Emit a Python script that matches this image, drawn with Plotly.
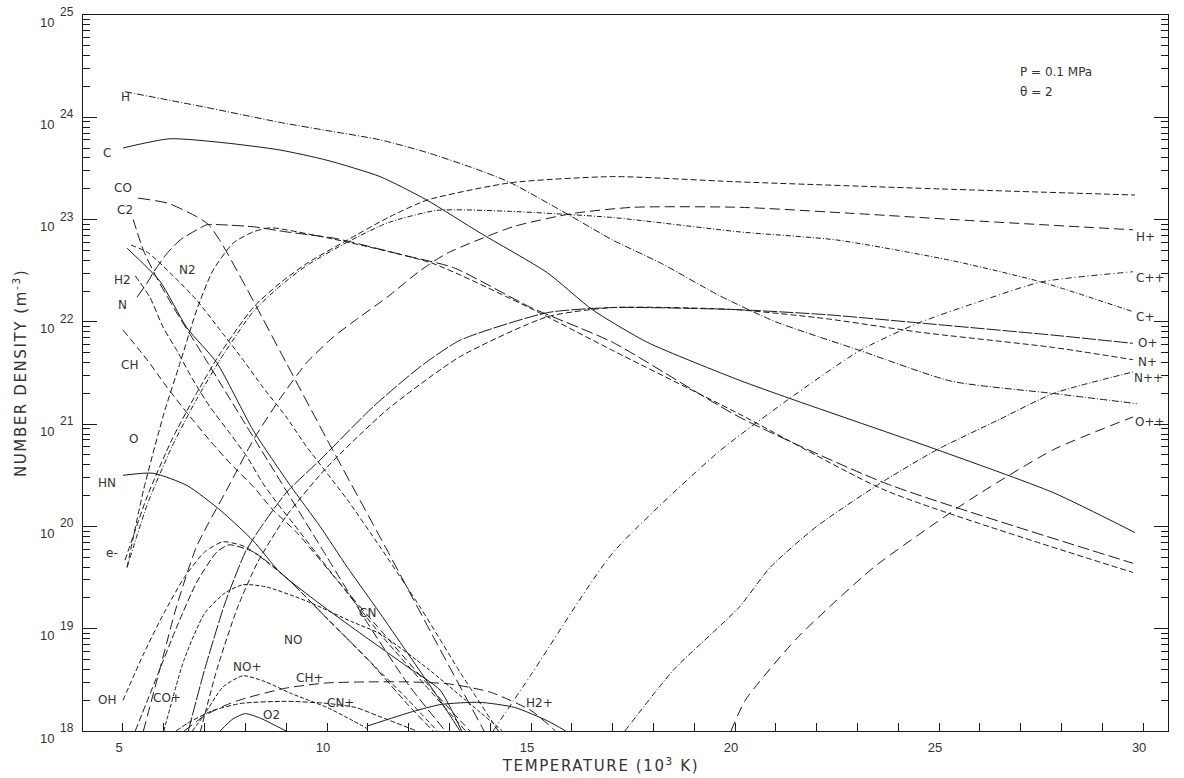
import plotly.graph_objects as go

# ---------------- data: temperature (10^3 K) and log10 number density (m^-3) -------------
H_T = [5.05, 7.0, 8.85, 10.0, 11.3, 12.5, 13.75, 14.5, 15.95, 17.0, 18.2, 19.6, 21.0, 23.06, 25.3, 27.8, 29.85]
H_L = [24.25, 24.1, 23.95, 23.87, 23.78, 23.65, 23.48, 23.36, 23.04, 22.8, 22.57, 22.26, 22.0, 21.72, 21.42, 21.3, 21.2]

C_T = [5.0, 6.15, 7.5, 8.85, 10.0, 11.3, 12.45, 13.75, 15.4, 16.5, 17.85, 20.1, 21.35, 24.95, 27.8, 29.8]
C_L = [23.7, 23.79, 23.75, 23.68, 23.58, 23.42, 23.19, 22.87, 22.48, 22.12, 21.8, 21.43, 21.25, 20.75, 20.33, 19.94]

E_T = [5.05, 5.6, 6.2, 6.8, 7.38, 8.19, 8.85, 9.5, 10.5, 11.5, 12.45, 14.5, 17.0, 20.0, 25.0, 29.8]
E_L = [19.67, 20.3, 20.85, 21.3, 21.69, 22.14, 22.38, 22.57, 22.8, 23.02, 23.19, 23.36, 23.42, 23.37, 23.3, 23.24]

CP_T = [5.1, 5.6, 6.2, 6.8, 7.38, 8.19, 8.85, 9.5, 10.5, 11.5, 12.7, 14.5, 17.0, 20.1, 22.5, 25.3, 27.5, 29.75]
CP_L = [19.6, 20.22, 20.78, 21.24, 21.63, 22.1, 22.35, 22.55, 22.78, 22.97, 23.09, 23.08, 23.02, 22.88, 22.8, 22.6, 22.39, 22.1]

HP_T = [5.5, 5.9, 6.3, 6.8, 7.6, 8.2, 8.85, 9.5, 10.15, 10.64, 11.47, 12.28, 12.94, 14.56, 16.03, 17.5, 20.1, 22.9, 26.2, 29.75]
HP_L = [18.0, 18.6, 19.2, 19.8, 20.4, 20.85, 21.25, 21.6, 21.85, 22.0, 22.24, 22.5, 22.67, 22.93, 23.06, 23.12, 23.12, 23.06, 22.98, 22.9]

CO_T = [5.37, 6.1, 6.8, 7.1, 7.4, 8.0, 9.0, 10.0, 11.47, 12.7, 13.85]
CO_L = [23.21, 23.16, 23.03, 22.95, 22.78, 22.35, 21.6, 20.85, 19.77, 18.85, 18.0]

C2_T = [5.25, 5.5, 5.8, 6.3, 7.0, 8.0, 9.0, 10.0, 11.0, 12.0, 12.9]
C2_L = [23.0, 22.7, 22.45, 22.1, 21.65, 21.0, 20.35, 19.7, 19.05, 18.45, 18.0]

N2_T = [5.2, 5.6, 6.23, 6.81, 7.38, 7.94, 8.43, 9.0, 9.5, 10.0, 10.5, 11.3, 12.3, 13.3, 14.2]
N2_L = [22.75, 22.68, 22.45, 22.21, 21.92, 21.63, 21.36, 21.07, 20.78, 20.52, 20.26, 19.8, 19.2, 18.55, 18.0]

CN_T = [5.1, 5.9, 6.57, 7.3, 8.19, 9.1, 9.83, 10.5, 11.3, 12.77, 13.26]
CN_L = [22.72, 22.4, 21.94, 21.6, 20.94, 20.4, 20.0, 19.6, 19.15, 18.3, 18.0]

H2_T = [5.3, 5.66, 5.98, 6.32, 6.72, 7.13, 7.62, 8.04, 8.43, 8.85, 9.17, 10.2, 11.3, 12.4, 13.4]
H2_L = [22.45, 22.24, 21.95, 21.72, 21.43, 21.17, 20.91, 20.68, 20.42, 20.19, 20.03, 19.5, 18.95, 18.45, 18.0]

CH_T = [5.0, 5.59, 6.08, 6.57, 7.13, 7.62, 8.19, 8.68, 9.26, 10.3, 11.5, 12.7, 13.5]
CH_L = [21.92, 21.63, 21.36, 21.11, 20.84, 20.62, 20.39, 20.16, 19.94, 19.45, 18.9, 18.35, 18.0]

N_T = [5.34, 5.59, 5.74, 6.08, 6.4, 6.81, 7.06, 7.38, 8.19, 9.0, 10.15, 10.6, 11.9, 13.1, 15.0, 17.0, 20.1, 23.7, 29.75]
N_L = [22.24, 22.38, 22.48, 22.67, 22.8, 22.9, 22.95, 22.95, 22.93, 22.88, 22.82, 22.78, 22.65, 22.53, 22.14, 21.8, 21.07, 20.42, 19.64]

O_T = [5.1, 5.5, 6.0, 6.4, 6.81, 7.2, 7.7, 8.19, 8.6, 9.0, 10.5, 12.6, 15.05, 17.0, 20.1, 23.7, 29.75]
O_L = [19.6, 20.35, 21.1, 21.6, 22.12, 22.5, 22.77, 22.88, 22.92, 22.9, 22.78, 22.57, 22.12, 21.72, 21.1, 20.35, 19.55]

HN_T = [5.0, 5.74, 6.57, 7.38, 8.19, 8.85, 9.8, 10.8, 12.0, 12.77, 13.3]
HN_L = [20.5, 20.52, 20.4, 20.16, 19.86, 19.55, 19.25, 18.96, 18.62, 18.4, 18.0]

OH_T = [5.0, 5.5, 6.0, 6.5, 7.0, 7.45, 8.0, 9.0, 10.0, 11.0, 12.0, 12.7]
OH_L = [18.3, 18.75, 19.15, 19.5, 19.75, 19.85, 19.8, 19.5, 19.1, 18.7, 18.3, 18.0]

COP_T = [5.3, 5.8, 6.3, 6.8, 7.3, 7.6, 8.2, 9.0, 10.0, 11.0, 12.0, 12.6]
COP_L = [18.0, 18.5, 19.0, 19.45, 19.75, 19.82, 19.75, 19.5, 19.1, 18.7, 18.25, 18.0]

NO_T = [6.0, 6.5, 7.0, 7.5, 7.94, 8.5, 9.5, 10.6, 11.3, 12.5, 13.4, 14.3]
NO_L = [18.0, 18.7, 19.15, 19.35, 19.43, 19.41, 19.27, 19.07, 18.95, 18.6, 18.3, 18.0]

NOP_T = [6.7, 6.96, 7.45, 7.94, 8.5, 9.1, 10.0, 10.64, 11.0]
NOP_L = [18.0, 18.14, 18.43, 18.54, 18.48, 18.37, 18.23, 18.1, 18.02]

CHP_T = [6.5, 7.0, 7.5, 8.0, 9.0, 10.0, 11.0, 12.0, 13.0, 14.0, 15.0, 15.6]
CHP_L = [18.0, 18.15, 18.25, 18.32, 18.42, 18.47, 18.48, 18.48, 18.46, 18.38, 18.2, 18.0]

CNP_T = [6.3, 6.6, 7.2, 7.9, 9.0, 10.0, 10.7, 11.3, 12.2]
CNP_L = [18.0, 18.08, 18.2, 18.27, 18.29, 18.27, 18.23, 18.14, 18.0]

O2_T = [7.38, 7.7, 8.0, 8.4, 8.7, 9.0]
O2_L = [18.0, 18.12, 18.17, 18.12, 18.06, 18.0]

H2P_T = [11.0, 12.1, 12.8, 13.75, 14.6, 15.4, 15.85]
H2P_L = [18.05, 18.19, 18.26, 18.28, 18.23, 18.1, 18.0]

OP_T = [6.6, 7.0, 7.5, 8.0, 8.36, 9.0, 9.83, 11.13, 12.28, 13.26, 15.4, 17.0, 20.0, 22.25, 24.5, 27.8, 29.75]
OP_L = [18.0, 18.6, 19.25, 19.75, 19.98, 20.33, 20.65, 21.17, 21.56, 21.82, 22.09, 22.14, 22.12, 22.07, 21.99, 21.87, 21.79]

NP_T = [6.9, 7.3, 7.8, 8.3, 9.0, 10.0, 11.47, 13.26, 15.4, 17.0, 20.0, 22.25, 24.5, 27.8, 29.75]
NP_L = [18.0, 18.6, 19.2, 19.65, 20.1, 20.58, 21.14, 21.66, 22.05, 22.14, 22.12, 22.03, 21.9, 21.75, 21.63]

CPP_T = [14.07, 15.0, 17.0, 19.6, 21.3, 23.06, 24.5, 26.0, 27.5, 29.75]
CPP_L = [18.0, 18.55, 19.74, 20.73, 21.24, 21.72, 21.99, 22.2, 22.39, 22.49]

NPP_T = [17.3, 18.5, 20.1, 20.86, 22.0, 23.55, 24.95, 26.5, 27.8, 29.75]
NPP_L = [18.0, 18.6, 19.21, 19.6, 20.0, 20.42, 20.75, 21.05, 21.3, 21.51]

OPP_T = [19.9, 20.25, 21.5, 23.4, 25.75, 27.8, 29.75]
OPP_L = [18.0, 18.3, 18.9, 19.6, 20.26, 20.75, 21.07]

# ---------------- series table ----------------
series = [
    ("H", H_T, H_L), ("C", C_T, C_L), ("e-", E_T, E_L), ("C+", CP_T, CP_L),
    ("H+", HP_T, HP_L), ("CO", CO_T, CO_L), ("C2", C2_T, C2_L), ("N2", N2_T, N2_L),
    ("CN", CN_T, CN_L), ("H2", H2_T, H2_L), ("CH", CH_T, CH_L), ("N", N_T, N_L),
    ("O", O_T, O_L), ("HN", HN_T, HN_L), ("OH", OH_T, OH_L), ("CO+", COP_T, COP_L),
    ("NO", NO_T, NO_L), ("NO+", NOP_T, NOP_L), ("CH+", CHP_T, CHP_L), ("CN+", CNP_T, CNP_L),
    ("O2", O2_T, O2_L), ("H2+", H2P_T, H2P_L), ("O+", OP_T, OP_L), ("N+", NP_T, NP_L),
    ("C++", CPP_T, CPP_L), ("N++", NPP_T, NPP_L), ("O++", OPP_T, OPP_L),
]

styles = {
    "H": "7px,2px,1px,2px", "C": "solid", "e-": "6px,3px", "C+": "5px,2px,1px,2px",
    "H+": "10px,5px", "CO": "12px,5px", "C2": "10px,4px", "N2": "5px,3px",
    "CN": "solid", "H2": "6px,3px", "CH": "7px,4px", "N": "12px,4px",
    "O": "6px,3px", "HN": "solid", "OH": "5px,3px", "CO+": "7px,3px",
    "NO": "4px,2px", "NO+": "4px,2px", "CH+": "10px,5px", "CN+": "5px,2px",
    "O2": "solid", "H2+": "solid", "O+": "14px,2px", "N+": "6px,3px",
    "C++": "6px,3px,1px,3px", "N++": "6px,2px,1px,2px", "O++": "10px,6px",
}

# label placement (temperature, log10 n) of the text centre
label_pos = {
    "H": (5.05, 24.2), "C": (4.61, 23.65), "CO": (5.0, 23.31), "C2": (5.05, 23.09),
    "N2": (6.57, 22.51), "H2": (5.0, 22.41), "N": (4.98, 22.16), "CH": (5.17, 21.58),
    "O": (5.25, 20.85), "HN": (4.61, 20.42), "e-": (4.73, 19.74), "OH": (4.61, 18.3),
    "CO+": (6.08, 18.32), "NO+": (8.04, 18.63), "CH+": (9.58, 18.52), "CN+": (10.32, 18.27),
    "O2": (8.65, 18.16), "NO": (9.17, 18.89), "CN": (11.0, 19.15), "H2+": (15.2, 18.27),
    "H+": (30.05, 22.83), "C++": (30.17, 22.43), "C+": (30.05, 22.05), "O+": (30.12, 21.79),
    "N+": (30.1, 21.61), "N++": (30.12, 21.45), "O++": (30.17, 21.02),
}

INK = "#1a1a1a"
TXT = "#333333"
SANS = "Liberation Sans, Arial, sans-serif"
WIDE = "DejaVu Sans, Verdana, sans-serif"

fig = go.Figure()
for name, T, L in series:
    fig.add_trace(go.Scatter(
        x=T, y=[10.0 ** v for v in L], mode="lines", name=name,
        line=dict(color=INK, width=1, dash=styles[name], shape="spline", smoothing=0.6),
        hoverinfo="name", showlegend=False,
    ))

for name, (tx, ly) in label_pos.items():
    fig.add_annotation(x=tx, y=ly, xref="x", yref="y", text=name, showarrow=False,
                       font=dict(family=WIDE, size=12, color=TXT), xanchor="center", yanchor="middle")

# decade tick labels: "10" with a raised exponent of nearly the same size
decades = list(range(18, 26))
for d in decades:
    fig.add_annotation(x=-0.0332, y=d, xref="paper", yref="y", text="10", showarrow=False,
                       xanchor="center", yanchor="middle", yshift=-7,
                       font=dict(family=SANS, size=13, color=TXT))
    fig.add_annotation(x=-0.0147, y=d, xref="paper", yref="y", text=str(d), showarrow=False,
                       xanchor="center", yanchor="middle", yshift=3,
                       font=dict(family=SANS, size=12, color=TXT))

fig.add_annotation(x=0.862, y=0.920, xref="paper", yref="paper", xanchor="left", yanchor="middle",
                   text="P = 0.1 MPa", showarrow=False, font=dict(family=WIDE, size=12, color=TXT))
fig.add_annotation(x=0.862, y=0.892, xref="paper", yref="paper", xanchor="left", yanchor="middle",
                   text="θ = 2", showarrow=False, font=dict(family=WIDE, size=12, color=TXT))

# axis titles
fig.add_annotation(x=0.4765, y=-0.0475, xref="paper", yref="paper", xanchor="center", yanchor="middle",
                   text="TEMPERATURE (10<sup>3</sup> K)", showarrow=False,
                   font=dict(family=WIDE, size=15, color=TXT))
fig.add_annotation(x=-0.058, y=0.5, xref="paper", yref="paper", xanchor="center", yanchor="middle",
                   text="NUMBER DENSITY (m<sup>-3</sup>)", showarrow=False, textangle=-90,
                   font=dict(family=WIDE, size=15, color=TXT))

fig.update_layout(
    width=1184, height=778,
    margin=dict(l=83, r=16, t=15, b=47),
    paper_bgcolor="white", plot_bgcolor="white",
    font=dict(family=SANS, size=13, color=TXT),
    xaxis=dict(
        range=[4.02, 30.61], tickmode="array", tickvals=[5, 10, 15, 20, 25, 30],
        ticks="inside", ticklen=8, tickcolor=INK, showline=True, linecolor=INK, linewidth=1,
        mirror=True, showgrid=False, zeroline=False, automargin=False,
        minor=dict(dtick=1, ticks="inside", ticklen=8, tickcolor=INK, showgrid=False),
        tickfont=dict(family=SANS, size=13, color=TXT), ticklabelshift=-4, ticklabelstandoff=4,
    ),
    yaxis=dict(
        type="log", range=[18, 25], tickmode="array",
        tickvals=[10.0 ** d for d in decades], showticklabels=False,
        ticks="inside", ticklen=14, tickcolor=INK, showline=True, linecolor=INK, linewidth=1,
        mirror="ticks", showgrid=False, zeroline=False, automargin=False,
        minor=dict(dtick="D1", ticks="inside", ticklen=7, tickcolor=INK, showgrid=False),
    ),
)

spacing_js = (
    "document.body.style.margin='0px';"
    "document.querySelectorAll('g.annotation-text-g text').forEach(function(t){"
    "var s=t.textContent||'';"
    "if(s.indexOf('TEMPERATURE')===0||s.indexOf('NUMBER')===0){t.style.letterSpacing='1.6px';}"
    "});"
)
fig.write_html("out.html", config={"displayModeBar": False}, post_script=spacing_js)
